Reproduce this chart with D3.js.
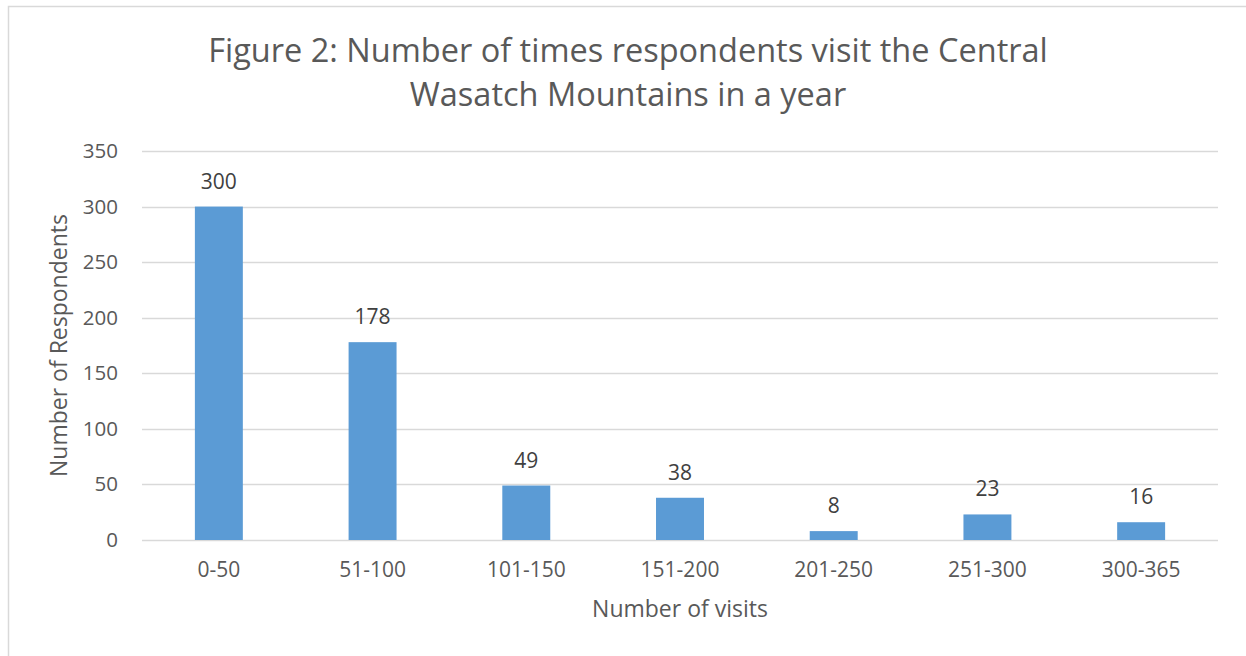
<!DOCTYPE html>
<html>
<head>
<meta charset="utf-8">
<script src="https://cdn.jsdelivr.net/npm/d3@7"></script>
<style>
  body { margin: 0; background: #fff; }
  svg { display: block; font-family: 'Open Sans', sans-serif; }
</style>
</head>
<body>
<div id="chart"></div>
<script>
const categories = ['0-50', '51-100', '101-150', '151-200', '201-250', '251-300', '300-365'];
const respondents = [300, 178, 49, 38, 8, 23, 16];
const yTicks = [0, 50, 100, 150, 200, 250, 300, 350];
const titleLines = ['Figure 2: Number of times respondents visit the Central', 'Wasatch Mountains in a year'];

const W = 1246, H = 656;
const margin = { top: 151, right: 28, bottom: 116, left: 142 };
const width = W - margin.left - margin.right;
const height = H - margin.top - margin.bottom;

const svg = d3.select('#chart').append('svg').attr('width', W).attr('height', H);

// chart border
svg.append('rect')
  .attr('x', 8.5).attr('y', 6.5)
  .attr('width', W + 10).attr('height', H + 10)
  .attr('fill', 'none').attr('stroke', '#d9d9d9').attr('stroke-width', 1.5);

svg.append('text')
  .attr('text-anchor', 'middle')
  .attr('fill', '#595959')
  .style('font-size', '32.5px')
  .selectAll('tspan')
  .data(titleLines)
  .join('tspan')
  .attr('x', 628)
  .attr('y', (d, i) => 62 + i * 44)
  .text(d => d);

const x = d3.scaleBand().domain(categories).range([0, width]).padding(0);
const y = d3.scaleLinear().domain([0, 350]).range([height, 0]);

const g = svg.append('g').attr('transform', `translate(${margin.left},${margin.top})`);

// grid
g.append('g')
  .selectAll('line')
  .data(yTicks)
  .join('line')
  .attr('x1', 0).attr('x2', width)
  .attr('y1', d => Math.round(y(d)) + 0.5).attr('y2', d => Math.round(y(d)) + 0.5)
  .attr('stroke', '#d9d9d9').attr('stroke-width', 1.5);

const yAxis = g.append('g')
  .call(d3.axisLeft(y).tickValues(yTicks).tickSize(0).tickPadding(24));
yAxis.select('.domain').remove();
yAxis.selectAll('text').attr('fill', '#595959').style('font-size', '20.5px').style('font-family', 'Open Sans');

const xAxis = g.append('g')
  .attr('transform', `translate(0,${height})`)
  .call(d3.axisBottom(x).tickSize(0).tickPadding(22));
xAxis.select('.domain').remove();
xAxis.selectAll('text').attr('fill', '#595959').style('font-size', '21px').style('font-family', 'Open Sans');

const barW = x.bandwidth() * 0.312;

g.selectAll('.bar')
  .data(categories)
  .join('rect')
  .attr('class', 'bar')
  .attr('x', d => x(d) + (x.bandwidth() - barW) / 2)
  .attr('y', (d, i) => y(respondents[i]))
  .attr('width', barW)
  .attr('height', (d, i) => height - y(respondents[i]))
  .attr('fill', '#5b9bd5');

g.selectAll('.label')
  .data(categories)
  .join('text')
  .attr('class', 'label')
  .attr('x', d => x(d) + x.bandwidth() / 2)
  .attr('y', (d, i) => y(respondents[i]) - 18)
  .attr('text-anchor', 'middle')
  .attr('fill', '#404040')
  .style('font-size', '21px')
  .text((d, i) => respondents[i]);

svg.append('text')
  .attr('x', margin.left + width / 2)
  .attr('y', 617)
  .attr('text-anchor', 'middle')
  .attr('fill', '#595959')
  .style('font-size', '23px')
  .text('Number of visits');

svg.append('text')
  .attr('transform', `translate(67,${margin.top + height / 2}) rotate(-90)`)
  .attr('text-anchor', 'middle')
  .attr('fill', '#595959')
  .style('font-size', '23px')
  .text('Number of Respondents');
</script>
</body>
</html>
